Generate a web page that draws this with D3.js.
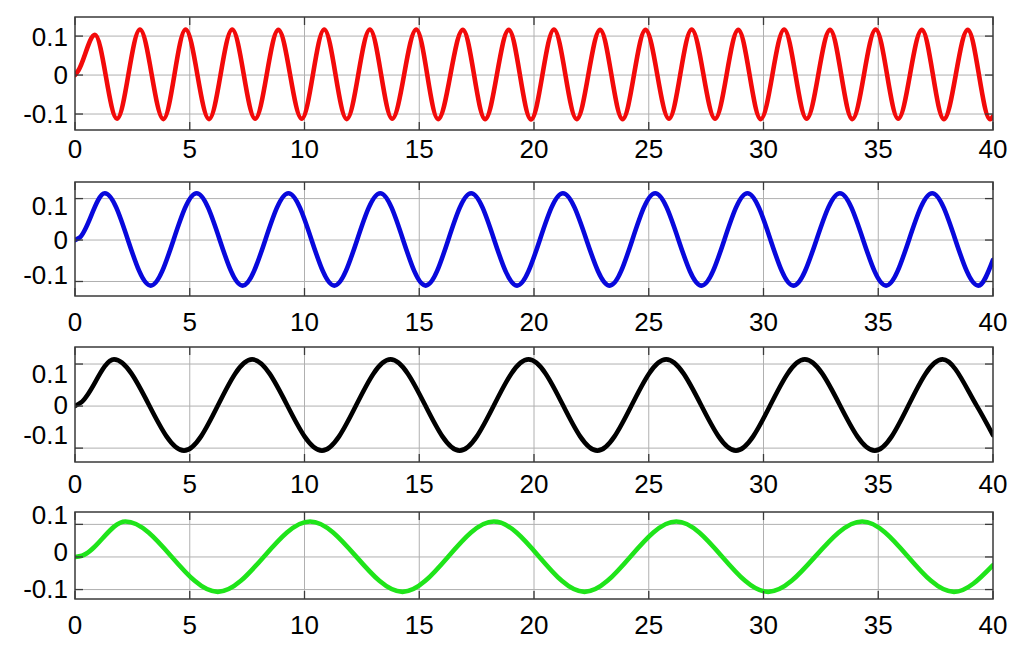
<!DOCTYPE html>
<html>
<head>
<meta charset="utf-8">
<script src="https://cdn.jsdelivr.net/npm/d3@7"></script>
<style>
  html, body { margin: 0; padding: 0; background: #fff; }
  svg { display: block; }
  text { font-family: "Liberation Sans", Arial, sans-serif; }
</style>
</head>
<body>
<svg id="chart" width="1024" height="652"></svg>
<script>
// ---------- data ----------
const xTicks = [0, 5, 10, 15, 20, 25, 30, 35, 40];
const xTickLabels = ["0", "5", "10", "15", "20", "25", "30", "35", "40"];
const yTicks = [-0.1, 0, 0.1];
const yTickLabels = ["-0.1", "0", "0.1"];

// key points (start, peaks/troughs, end) of each trace, [t, value]
const redPoints = [
  [0, 0], [0.15, 0.012], [0.87, 0.103], [1.83, -0.112], [2.83, 0.117], [3.85, -0.113],
  [4.82, 0.117], [5.84, -0.113], [6.85, 0.117], [7.85, -0.112], [8.86, 0.116], [9.88, -0.112],
  [10.86, 0.117], [11.84, -0.113], [12.85, 0.117], [13.82, -0.112], [14.87, 0.117], [15.82, -0.113],
  [16.9, 0.116], [17.87, -0.113], [18.9, 0.116], [19.87, -0.114], [20.87, 0.117], [21.86, -0.113],
  [22.88, 0.116], [23.86, -0.113], [24.86, 0.116], [25.88, -0.112], [26.87, 0.117], [27.89, -0.112],
  [28.9, 0.116], [29.88, -0.113], [30.9, 0.117], [31.88, -0.112], [32.9, 0.116], [33.87, -0.113],
  [34.89, 0.117], [35.87, -0.112], [36.9, 0.116], [37.86, -0.113], [38.9, 0.116], [39.87, -0.113],
  [40, -0.106]
];
const bluePoints = [
  [0, 0], [0.2, 0.006], [1.3, 0.113], [3.3, -0.11], [5.3, 0.113], [7.3, -0.11], [9.3, 0.113],
  [11.3, -0.11], [13.3, 0.113], [15.28, -0.11], [17.26, 0.113], [19.26, -0.11], [21.26, 0.113],
  [23.3, -0.11], [25.28, 0.113], [27.3, -0.11], [29.3, 0.113], [31.3, -0.11], [33.33, 0.113],
  [35.34, -0.11], [37.35, 0.113], [39.36, -0.11], [40, -0.048]
];
const blackPoints = [
  [0, 0], [0.25, 0.008], [1.7, 0.111], [4.75, -0.106], [7.72, 0.111], [10.76, -0.106],
  [13.75, 0.111], [16.76, -0.106], [19.76, 0.111], [22.76, -0.106], [25.76, 0.111],
  [28.8, -0.106], [31.8, 0.111], [34.85, -0.106], [37.8, 0.111], [39.3, 0], [40, -0.069]
];
const greenPoints = [
  [0, 0], [0.3, 0.004], [2.2, 0.109], [6.22, -0.107], [10.24, 0.109], [14.27, -0.107],
  [18.25, 0.109], [22.2, -0.107], [26.2, 0.109], [30.2, -0.107], [34.3, 0.109],
  [38.3, -0.107], [40, -0.025]
];

// ---------- layout ----------
const left = 75, right = 993;
const panels = [
  { pts: redPoints,   color: "#f20a0a", top: 17,  bottom: 130, yDomain: [-0.141, 0.149], xLabelBase: 158, yLabelRange: [113.5, 37] },
  { pts: bluePoints,  color: "#0808dc", top: 182, bottom: 296, yDomain: [-0.135, 0.140], xLabelBase: 331, yLabelRange: [275, 205.5] },
  { pts: blackPoints, color: "#000000", top: 347, bottom: 462, yDomain: [-0.133, 0.1405], xLabelBase: 493, yLabelRange: [435, 374] },
  { pts: greenPoints, color: "#1fe41a", top: 512, bottom: 599, yDomain: [-0.129, 0.138], xLabelBase: 634, yLabelRange: [589, 515] }
];

const svg = d3.select("#chart");
svg.append("rect").attr("width", 1024).attr("height", 652).attr("fill", "#fff");

const x = d3.scaleLinear().domain([0, 40]).range([left, right]);
const gridColor = "#b0b0b0";
const boxColor = "#3a3a3a";
const tickLen = 8;

panels.forEach((p, i) => {
  const y = d3.scaleLinear().domain(p.yDomain).range([p.bottom, p.top]);
  const yLbl = d3.scaleLinear().domain([-0.1, 0.1]).range(p.yLabelRange);
  const g = svg.append("g");

  const clipId = "clip" + i;
  svg.append("clipPath").attr("id", clipId)
    .append("rect").attr("x", left).attr("y", p.top)
    .attr("width", right - left).attr("height", p.bottom - p.top);

  // grid
  g.append("g").selectAll("line").data(xTicks.slice(1, -1)).join("line")
    .attr("x1", d => x(d)).attr("x2", d => x(d))
    .attr("y1", p.top).attr("y2", p.bottom)
    .attr("stroke", gridColor).attr("stroke-width", 1);
  g.append("g").selectAll("line").data(yTicks).join("line")
    .attr("x1", left).attr("x2", right)
    .attr("y1", d => y(d)).attr("y2", d => y(d))
    .attr("stroke", gridColor).attr("stroke-width", 1);

  // trace
  const line = d3.line().x(d => x(d[0])).y(d => y(d[1])).curve(d3.curveMonotoneX);
  g.append("path").datum(p.pts)
    .attr("clip-path", `url(#${clipId})`)
    .attr("d", line)
    .attr("fill", "none")
    .attr("stroke", p.color)
    .attr("stroke-width", 4.6)
    .attr("stroke-linejoin", "round")
    .attr("stroke-linecap", "round");

  // ticks (inward on all four sides)
  const tg = g.append("g").attr("stroke", boxColor).attr("stroke-width", 1.3);
  xTicks.forEach(t => {
    tg.append("line").attr("x1", x(t)).attr("x2", x(t)).attr("y1", p.bottom).attr("y2", p.bottom - tickLen);
    tg.append("line").attr("x1", x(t)).attr("x2", x(t)).attr("y1", p.top).attr("y2", p.top + tickLen);
  });
  yTicks.forEach(t => {
    tg.append("line").attr("x1", left).attr("x2", left + tickLen).attr("y1", y(t)).attr("y2", y(t));
    tg.append("line").attr("x1", right).attr("x2", right - tickLen).attr("y1", y(t)).attr("y2", y(t));
  });

  // box
  g.append("rect").attr("x", left).attr("y", p.top)
    .attr("width", right - left).attr("height", p.bottom - p.top)
    .attr("fill", "none").attr("stroke", boxColor).attr("stroke-width", 1.5);

  // x labels
  g.append("g").selectAll("text").data(xTicks).join("text")
    .attr("x", d => x(d)).attr("y", p.xLabelBase)
    .attr("text-anchor", "middle")
    .attr("font-size", 26).attr("fill", "#000")
    .text((d, j) => xTickLabels[j]);

  // y labels
  g.append("g").selectAll("text").data(yTicks).join("text")
    .attr("x", left - 7).attr("y", d => yLbl(d))
    .attr("text-anchor", "end")
    .attr("dominant-baseline", "central")
    .attr("font-size", 26).attr("fill", "#000")
    .text((d, j) => yTickLabels[j]);
});
</script>
</body>
</html>
